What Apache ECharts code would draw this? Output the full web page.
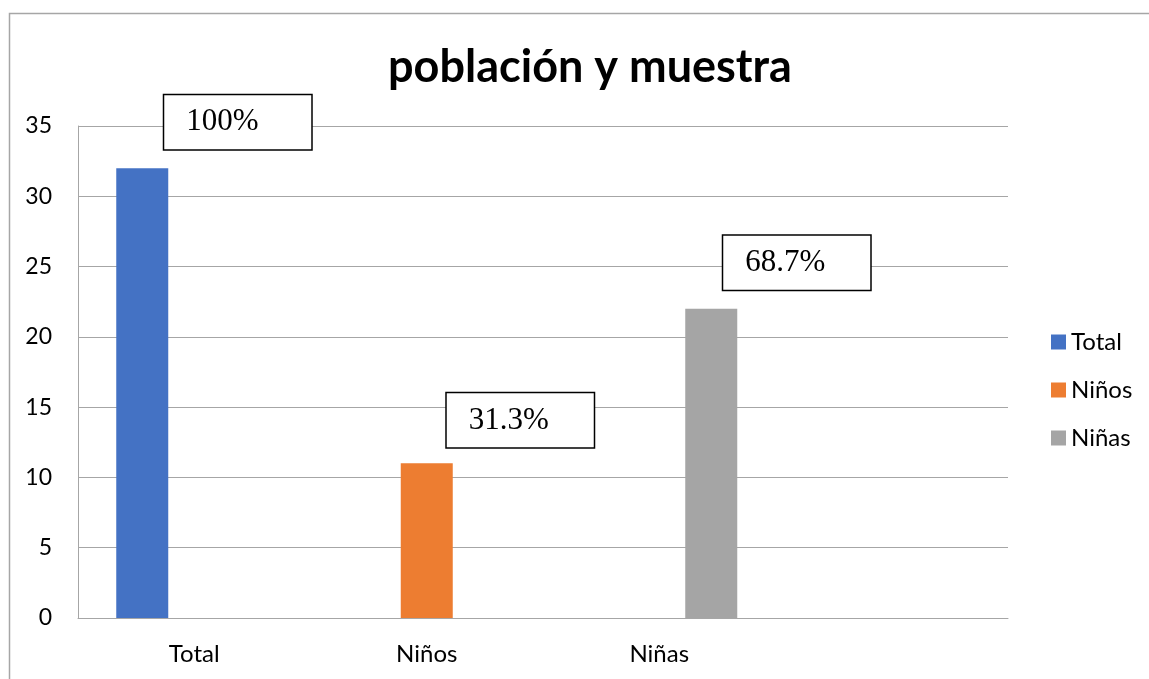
<!DOCTYPE html>
<html>
<head>
<meta charset="utf-8">
<script src="https://cdn.jsdelivr.net/npm/echarts@6/dist/echarts.min.js"></script>
<style>html,body{margin:0;padding:0;background:#fff}#c{width:1149px;height:679px}</style>
</head>
<body>
<div id="c"></div>
<script>
const categories = ['Total', 'Niños', 'Niñas', ''];
const seriesNames = ['Total', 'Niños', 'Niñas'];
const totalValues = [32, null, null, null];
const ninosValues = [null, 11, null, null];
const ninasValues = [null, null, 22, null];
const percentLabels = ['100%', '31.3%', '68.7%'];
const yTicks = { min: 0, max: 35, interval: 5 };

const colors = ['#4472C4', '#ED7D31', '#A5A5A5'];
const valueSets = [totalValues, ninosValues, ninasValues];
const labelOffsets = [[22, -41], [20, -38], [12, -41]];

const chart = echarts.init(document.getElementById('c'));
chart.setOption({
  animation: false,
  color: colors,
  title: {
    text: 'población y muestra',
    left: 585, top: 40, textAlign: 'center',
    textStyle: { fontFamily: 'Lato', fontWeight: 'bold', fontSize: 45, color: '#000' }
  },
  legend: {
    orient: 'vertical', left: 1046, top: 325, itemWidth: 15, itemHeight: 15, itemGap: 24,
    icon: 'rect',
    textStyle: { fontFamily: 'Lato', fontSize: 24, lineHeight: 24, color: '#000' },
    data: seriesNames
  },
  grid: { left: 78, right: 141, top: 126, bottom: 61, containLabel: false },
  xAxis: {
    type: 'category', data: categories,
    axisTick: { show: false },
    axisLine: { lineStyle: { color: '#a6a6a6', width: 1 } },
    axisLabel: { fontFamily: 'Lato', fontSize: 24, color: '#000', margin: 24 }
  },
  yAxis: {
    type: 'value', min: yTicks.min, max: yTicks.max, interval: yTicks.interval,
    axisLine: { show: true, lineStyle: { color: '#a6a6a6', width: 1 } },
    axisTick: { show: false },
    splitLine: { lineStyle: { color: '#a6a6a6', width: 1 } },
    axisLabel: { fontFamily: 'Lato', fontSize: 23, color: '#000', margin: 26 }
  },
  graphic: [{
    type: 'rect', silent: true,
    shape: { x: 9.5, y: 13.5, width: 1300, height: 800 },
    style: { fill: 'none', stroke: '#a6a6a6', lineWidth: 1.5 }
  }],
  series: seriesNames.map((name, i) => ({
    name: name, type: 'bar', data: valueSets[i],
    barWidth: 52, barGap: '0%',
    label: {
      show: true, position: 'top', distance: 5, offset: labelOffsets[i],
      formatter: () => percentLabels[i],
      fontFamily: 'Liberation Serif', fontSize: 31, color: '#000',
      backgroundColor: '#fff', borderColor: '#000', borderWidth: 1.5,
      width: 125, height: 51, lineHeight: 51, align: 'left', verticalAlign: 'middle',
      padding: [3, 0, 0, 22]
    }
  }))
});
</script>
</body>
</html>
